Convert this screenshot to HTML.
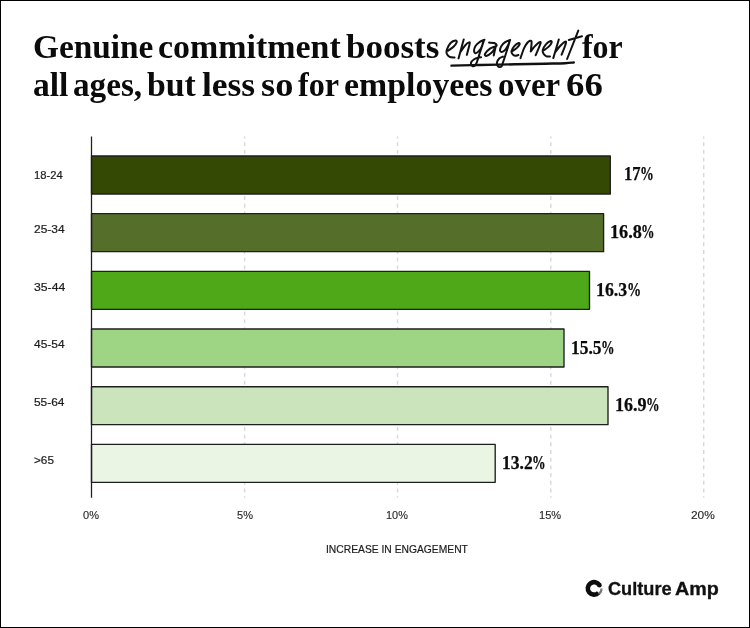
<!DOCTYPE html>
<html>
<head>
<meta charset="utf-8">
<title>Genuine commitment boosts engagement</title>
<style>
html,body{margin:0;padding:0;background:#fff;}
body{width:750px;height:628px;position:relative;overflow:hidden;font-family:"Liberation Sans",sans-serif;color:#111;}
#frame{position:absolute;left:0;top:0;width:748px;height:626px;border:1px solid #000;}
.t{position:absolute;white-space:nowrap;line-height:1;transform-origin:0 0;}
.title{font-family:"Liberation Serif",serif;font-weight:bold;color:#0b0b0b;}
.val{font-family:"Liberation Serif",serif;font-weight:bold;color:#0b0b0b;-webkit-text-stroke:0.25px #0b0b0b;}
.cat{color:#1c1c1c;-webkit-text-stroke:0.2px #1c1c1c;}
.tick{color:#2a2a2a;-webkit-text-stroke:0.15px #2a2a2a;}
.axis{color:#1c1c1c;-webkit-text-stroke:0.2px #1c1c1c;}
.logo{font-weight:bold;color:#111;-webkit-text-stroke:0.3px #111;}
svg{position:absolute;left:0;top:0;}
#labels{position:absolute;left:0;top:0;width:750px;height:628px;will-change:transform;}
</style>
</head>
<body>
<div id="frame"></div>
<svg width="750" height="628" viewBox="0 0 750 628">
<g stroke="#d8d8d8" stroke-width="1.4" stroke-dasharray="3.9 3.795" stroke-dashoffset="2.04">
  <line x1="244.6" y1="136.6" x2="244.6" y2="497.8"/>
  <line x1="397.5" y1="136.6" x2="397.5" y2="497.8"/>
  <line x1="550.8" y1="136.6" x2="550.8" y2="497.8"/>
  <line x1="703.7" y1="136.6" x2="703.7" y2="497.8"/>
</g>
<g stroke="#1e1e1e" stroke-width="1.35" stroke-linejoin="round">
  <rect x="91.5" y="156.00" width="518.80" height="37.95" fill="#344a04"/>
  <rect x="91.5" y="213.68" width="512.10" height="37.95" fill="#556f2a"/>
  <rect x="91.5" y="271.36" width="498.00" height="37.95" fill="#4fa817"/>
  <rect x="91.5" y="329.04" width="472.50" height="37.95" fill="#9ed584"/>
  <rect x="91.5" y="386.72" width="516.50" height="37.95" fill="#cce4bb"/>
  <rect x="91.5" y="444.40" width="403.70" height="37.95" fill="#ebf5e4"/>
</g>
<line x1="91.5" y1="136.6" x2="91.5" y2="497.8" stroke="#1e1e1e" stroke-width="1.25"/>
<g id="hand" fill="none" stroke="#111" stroke-linecap="round" stroke-linejoin="round">
    <path stroke-width="2" transform="translate(0.6 0)" d="M447.6 50.6C448.5 50.0 451.5 48.2 452.9 46.8C454.3 45.4 455.8 43.2 456.1 42.2C456.4 41.2 455.9 40.4 454.9 40.5C453.9 40.6 451.4 41.5 450.0 43.0C448.6 44.5 447.0 47.5 446.4 49.3C445.8 51.0 445.7 52.2 446.1 53.5C446.5 54.8 447.7 56.2 449.0 56.9C450.3 57.6 453.1 57.5 453.9 57.6 M463.1 39.4L457.9 58.4 M459.8 52.0C460.6 50.9 463.1 47.1 464.5 45.5C465.9 43.9 467.6 42.6 468.3 42.4C469.1 42.1 469.4 41.9 469.0 44.0C468.6 46.1 466.7 53.1 466.2 54.9 M483.9 39.7C483.0 40.1 480.1 41.2 478.6 42.3C477.1 43.3 475.8 44.5 474.9 46.0C474.0 47.5 473.4 50.0 473.5 51.2C473.6 52.4 474.3 53.4 475.2 53.3C476.1 53.2 477.6 51.7 478.6 50.6C479.6 49.5 480.2 48.6 481.0 46.8C481.8 45.0 482.9 41.1 483.3 40.0 M483.6 39.8C483.0 41.6 481.2 46.9 480.0 50.5C478.8 54.1 477.4 59.0 476.5 61.5C475.6 64.0 475.5 64.4 474.7 65.2C473.9 66.0 472.6 66.5 471.9 66.1C471.2 65.7 470.1 63.9 470.4 62.7C470.7 61.6 472.3 60.1 473.6 59.2C474.9 58.3 477.1 57.8 478.2 57.5C479.3 57.2 480.1 57.2 480.5 57.2 M488.5 42.6C489.4 42.7 492.5 42.5 493.7 43.0C494.9 43.5 496.6 44.9 495.9 45.8C495.2 46.7 491.3 47.3 489.4 48.6C487.5 49.9 485.1 52.6 484.5 53.8C483.9 55.0 484.5 56.2 485.6 56.0C486.7 55.8 489.6 54.1 491.2 52.6C492.8 51.1 494.4 48.1 495.0 47.2 M495.2 46.0L493.1 55.5 M509.5 40.0C508.7 40.4 506.0 41.1 504.6 42.1C503.2 43.1 501.9 44.4 501.0 45.8C500.1 47.2 499.3 49.2 499.4 50.3C499.4 51.3 500.4 52.2 501.3 52.1C502.2 52.0 503.8 50.7 504.8 49.6C505.8 48.5 506.4 47.4 507.2 45.8C508.0 44.2 509.1 41.1 509.5 40.2 M509.5 40.0C508.9 41.9 507.2 47.7 506.0 51.5C504.8 55.3 503.2 60.2 502.3 62.7C501.4 65.2 501.4 66.2 500.6 66.8C499.8 67.4 498.1 66.9 497.4 66.2C496.7 65.5 496.2 63.7 496.4 62.4C496.6 61.1 497.6 59.5 498.6 58.5C499.6 57.5 501.7 56.9 502.3 56.6 M512.0 51.0C512.7 50.5 515.2 48.8 516.4 47.7C517.5 46.6 518.6 45.4 518.9 44.6C519.2 43.8 519.0 42.7 518.1 43.0C517.2 43.3 514.9 44.8 513.7 46.2C512.5 47.6 511.2 49.9 510.9 51.2C510.6 52.6 511.5 53.5 512.1 54.3C512.7 55.0 513.7 55.6 514.6 55.7C515.5 55.8 517.3 55.2 517.8 55.1 M519.9 58.1C520.5 56.4 522.4 50.4 523.6 47.8C524.8 45.2 526.0 43.7 527.0 42.5C528.0 41.3 528.8 40.9 529.5 40.8C530.2 40.7 530.9 40.2 531.0 42.0C531.1 43.8 530.3 49.9 530.2 51.5 M530.2 51.5C530.8 50.7 532.5 48.1 533.9 46.6C535.3 45.1 537.5 42.8 538.5 42.3C539.5 41.8 540.5 41.4 539.9 43.5C539.3 45.6 535.9 53.2 535.1 55.2 M543.8 50.0C544.6 49.4 547.2 47.6 548.4 46.4C549.6 45.2 550.7 43.5 551.0 42.6C551.3 41.7 551.0 40.7 550.1 41.0C549.2 41.3 546.8 42.7 545.5 44.2C544.2 45.7 542.6 48.5 542.2 50.1C541.8 51.8 542.5 53.1 543.1 54.1C543.7 55.1 544.9 56.0 545.9 56.4C546.9 56.8 548.8 56.5 549.4 56.5 M558.2 39.5L552.7 58.1 M554.8 52.0C555.6 51.0 557.9 47.7 559.5 46.0C561.1 44.3 563.2 42.3 564.2 41.8C565.2 41.3 565.8 41.1 565.3 43.2C564.8 45.4 561.7 52.8 561.0 54.7 M577.7 30.6L566.5 59.0 M568.2 40.0L581.4 36.2"/>
    <path stroke-width="2.4" d="M451.5 65.6C456.2 65.5 469.4 65.2 480.0 65.0C490.6 64.8 504.2 64.5 515.0 64.3C525.8 64.1 536.7 63.9 545.0 63.7C553.3 63.5 560.2 63.4 565.0 63.2C569.8 63.0 572.3 62.6 573.8 62.5"/>
  </g>
<path d="M598.55 592.74A6.25 6.25 0 1 1 599.46 585.27" fill="none" stroke="#0d0d0d" stroke-width="4.6"/>
<circle cx="599.46" cy="585.27" r="2.25" fill="#0d0d0d"/>
<path d="M598.43 594.43A7.45 7.45 0 0 0 601.50 588.40" fill="none" stroke="#555" stroke-width="2.1" opacity="0.8"/>
</svg>
<div id="labels">
<div class="t title" style="left:32.71px;top:29.52px;font-size:34px;transform:scaleX(0.9806);">Genuine</div>
<div class="t title" style="left:158.04px;top:29.52px;font-size:34px;transform:scaleX(0.9975);">commitment</div>
<div class="t title" style="left:346.31px;top:29.52px;font-size:34px;transform:scaleX(1.0298);">boosts</div>
<div class="t title" style="left:582.28px;top:29.52px;font-size:34px;transform:scaleX(0.9375);">for</div>
<div class="t title" style="left:32.65px;top:67.53px;font-size:34px;transform:scaleX(0.9871);">all</div>
<div class="t title" style="left:73.30px;top:67.53px;font-size:34px;transform:scaleX(0.9766);">ages,</div>
<div class="t title" style="left:146.97px;top:67.53px;font-size:34px;transform:scaleX(0.9945);">but</div>
<div class="t title" style="left:201.50px;top:67.53px;font-size:34px;transform:scaleX(1.0419);">less</div>
<div class="t title" style="left:260.84px;top:67.53px;font-size:34px;transform:scaleX(1.0701);">so</div>
<div class="t title" style="left:298.18px;top:67.53px;font-size:34px;transform:scaleX(0.9462);">for</div>
<div class="t title" style="left:344.01px;top:67.53px;font-size:34px;transform:scaleX(0.9956);">employees</div>
<div class="t title" style="left:498.17px;top:67.53px;font-size:34px;transform:scaleX(0.9671);">over</div>
<div class="t title" style="left:565.57px;top:67.53px;font-size:34px;transform:scaleX(1.0817);">66</div>
<div class="t val" style="left:624.08px;top:165.23px;font-size:18px;transform:scaleX(0.9176);">17</div>
<div class="t val" style="left:640.33px;top:165.23px;font-size:18px;transform:scaleX(0.7687);">%</div>
<div class="t val" style="left:609.79px;top:223.23px;font-size:18px;transform:scaleX(1.0131);">16.8</div>
<div class="t val" style="left:641.45px;top:223.23px;font-size:18px;transform:scaleX(0.7500);">%</div>
<div class="t val" style="left:595.61px;top:280.62px;font-size:18px;transform:scaleX(0.9902);">16.3</div>
<div class="t val" style="left:626.51px;top:280.62px;font-size:18px;transform:scaleX(0.7875);">%</div>
<div class="t val" style="left:571.03px;top:338.93px;font-size:18px;transform:scaleX(0.9672);">15.5</div>
<div class="t val" style="left:601.25px;top:338.93px;font-size:18px;transform:scaleX(0.7500);">%</div>
<div class="t val" style="left:614.80px;top:395.82px;font-size:18px;transform:scaleX(1.0033);">16.9</div>
<div class="t val" style="left:646.14px;top:395.82px;font-size:18px;transform:scaleX(0.7563);">%</div>
<div class="t val" style="left:501.63px;top:453.73px;font-size:18px;transform:scaleX(0.9738);">13.2</div>
<div class="t val" style="left:532.04px;top:453.73px;font-size:18px;transform:scaleX(0.7563);">%</div>
<div class="t cat" style="left:33.72px;top:169.69px;font-size:11px;transform:scaleX(1.0192);">18-24</div>
<div class="t cat" style="left:33.90px;top:223.79px;font-size:11px;transform:scaleX(1.0877);">25-34</div>
<div class="t cat" style="left:33.54px;top:281.69px;font-size:11px;transform:scaleX(1.1103);">35-44</div>
<div class="t cat" style="left:34.23px;top:338.69px;font-size:11px;transform:scaleX(1.0847);">45-54</div>
<div class="t cat" style="left:33.56px;top:396.79px;font-size:11px;transform:scaleX(1.0827);">55-64</div>
<div class="t cat" style="left:33.91px;top:454.69px;font-size:11px;transform:scaleX(1.0694);">&gt;65</div>
<div class="t tick" style="left:83.24px;top:510.17px;font-size:11.5px;transform:scaleX(0.9602);">0%</div>
<div class="t tick" style="left:236.55px;top:510.17px;font-size:11.5px;transform:scaleX(0.9578);">5%</div>
<div class="t tick" style="left:386.34px;top:510.17px;font-size:11.5px;transform:scaleX(0.9479);">10%</div>
<div class="t tick" style="left:539.29px;top:510.17px;font-size:11.5px;transform:scaleX(0.9615);">15%</div>
<div class="t tick" style="left:690.50px;top:510.17px;font-size:11.5px;transform:scaleX(1.0357);">20%</div>
<div class="t axis" style="left:325.85px;top:543.79px;font-size:11px;transform:scaleX(0.9359);">INCREASE IN ENGAGEMENT</div>
<div class="t logo" style="left:608.48px;top:580.99px;font-size:17.5px;transform:scaleX(1.0379);">Culture</div>
<div class="t logo" style="left:674.74px;top:580.99px;font-size:17.5px;transform:scaleX(1.1278);">Amp</div>
</div>
</body>
</html>
